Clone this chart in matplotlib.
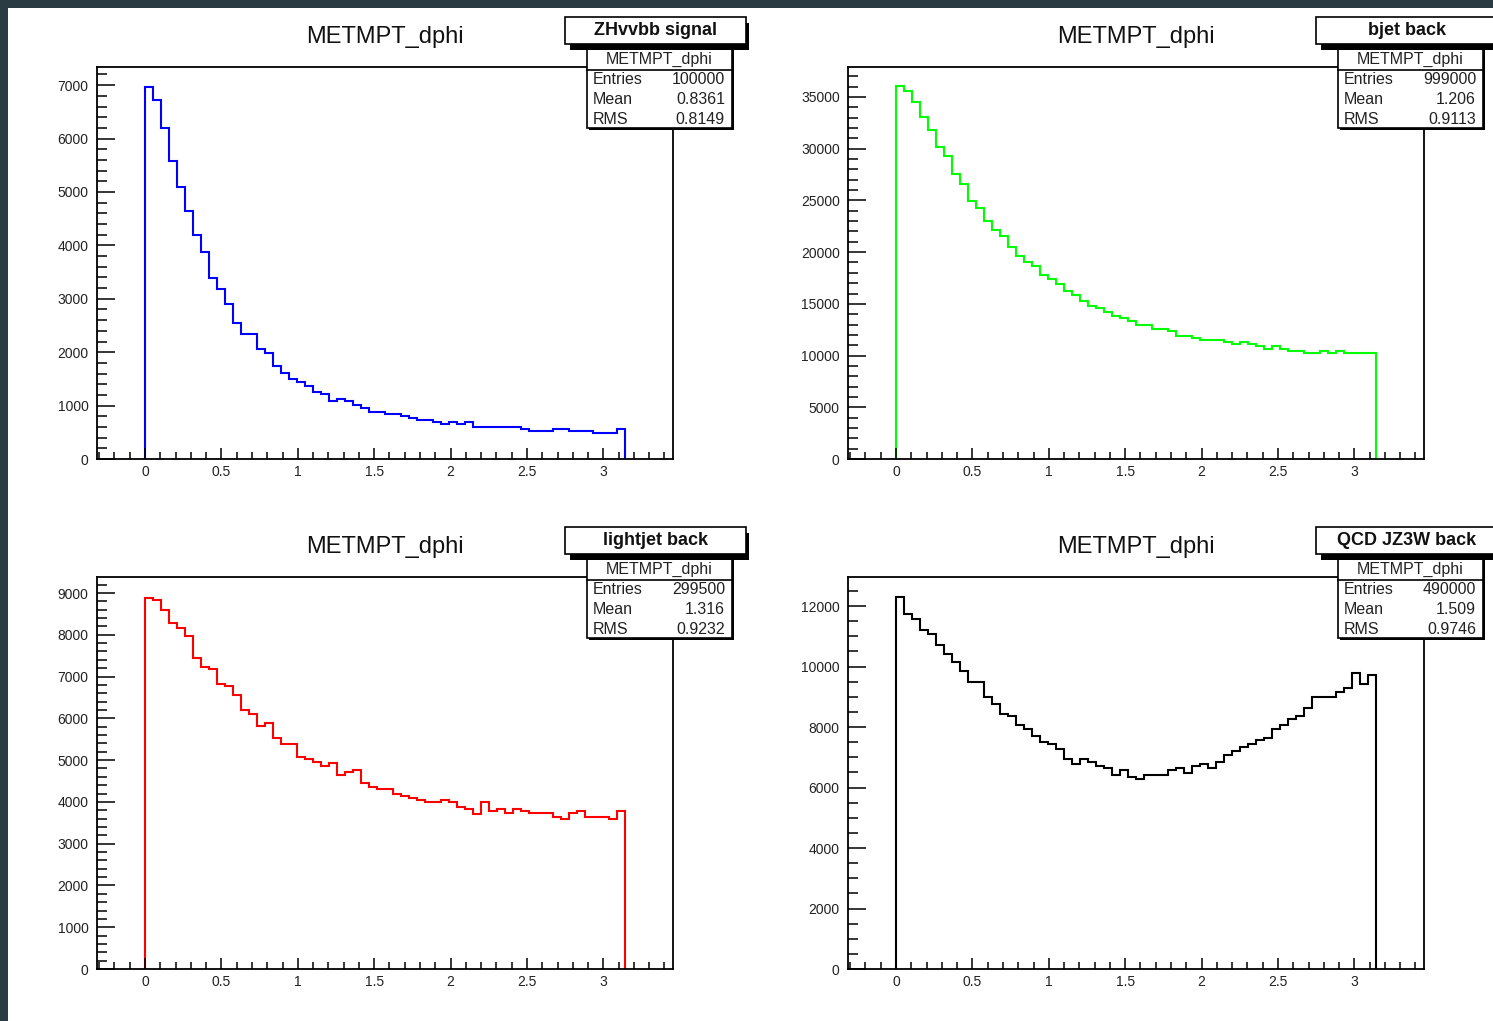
import numpy as np
import matplotlib.pyplot as plt
from matplotlib.patches import Rectangle
from matplotlib.ticker import MultipleLocator, FormatStrFormatter

plt.rcParams['font.family'] = ['Liberation Sans', 'DejaVu Sans']

W, H = 1493, 1021

# bin contents, 60 bins from 0 to pi
zhvvbb_counts = [6960, 6720, 6190, 5580, 5100, 4650, 4200, 3880, 3390, 3190,
                 2900, 2540, 2340, 2340, 2060, 1980, 1740, 1610, 1500, 1450,
                 1370, 1250, 1210, 1080, 1120, 1085, 1010, 960, 885, 885,
                 850, 850, 810, 770, 730, 730, 690, 650, 690, 650,
                 690, 605, 605, 605, 605, 605, 605, 560, 530, 530,
                 530, 560, 560, 530, 530, 530, 490, 490, 490, 560]
bjet_counts = [36040, 35620, 34550, 33060, 31800, 30150, 29310, 27600, 26570, 24920,
               24300, 23010, 22170, 21560, 20490, 19650, 19040, 18620, 17780, 17360,
               16940, 16290, 15900, 15260, 14840, 14640, 14220, 13800, 13610, 13380,
               12960, 12960, 12570, 12570, 12350, 11930, 11930, 11730, 11510, 11510,
               11510, 11310, 11090, 11310, 11090, 10890, 10670, 10890, 10670, 10470,
               10470, 10280, 10280, 10470, 10280, 10470, 10280, 10280, 10280, 10280]
lightjet_counts = [8885, 8838, 8583, 8280, 8169, 7962, 7444, 7229, 7189, 6815,
                   6768, 6569, 6194, 6099, 5828, 5892, 5533, 5382, 5382, 5064,
                   5016, 4960, 4857, 4920, 4650, 4713, 4761, 4451, 4347, 4299,
                   4299, 4196, 4140, 4092, 4045, 3989, 3989, 4045, 3989, 3885,
                   3838, 3702, 3989, 3782, 3838, 3726, 3838, 3782, 3734, 3734,
                   3734, 3631, 3583, 3726, 3782, 3631, 3631, 3631, 3583, 3782]
qcd_counts = [12288, 11735, 11581, 11206, 11073, 10709, 10422, 10146, 9859, 9494,
              9494, 8998, 8777, 8424, 8357, 8059, 7927, 7706, 7496, 7430,
              7286, 6933, 6778, 6933, 6856, 6712, 6634, 6425, 6568, 6348,
              6271, 6425, 6425, 6425, 6568, 6634, 6491, 6712, 6778, 6634,
              6856, 7065, 7209, 7353, 7430, 7562, 7640, 7927, 8070, 8280,
              8357, 8644, 8998, 8998, 8998, 9141, 9285, 9781, 9417, 9704]

hist_title = "METMPT_dphi"
labels = ["ZHvvbb signal", "bjet back", "lightjet back", "QCD JZ3W back"]
entries = ["100000", "999000", "299500", "490000"]
means = ["0.8361", "1.206", "1.316", "1.509"]
rmss = ["0.8149", "0.9113", "0.9232", "0.9746"]
colors = ["#0000ff", "#00ff00", "#ff0000", "#000000"]
ymaxes = [7340, 37900, 9383, 12959]
ymajor = [1000, 5000, 1000, 2000]
yminor = [200, 1000, 200, 500]

all_counts = [zhvvbb_counts, bjet_counts, lightjet_counts, qcd_counts]
edges = np.linspace(0, np.pi, len(zhvvbb_counts) + 1)


def fx(x):
    return x / W


def fy(y):
    return 1 - y / H


def box(x0, y0, x1, y1, **kw):
    r = Rectangle((fx(x0), fy(y1)), fx(x1) - fx(x0), fy(y0) - fy(y1),
                  transform=fig.transFigure, **kw)
    fig.add_artist(r)
    return r


fig = plt.figure(figsize=(W / 100, H / 100), dpi=100, facecolor='#2b3b44')
box(8, 8, W + 20, H + 20, facecolor='white', edgecolor='none', zorder=-10)

for i in range(4):
    r, c = divmod(i, 2)
    dx, dy = 751 * c, 510 * r
    x0, x1, y0, y1 = 97 + dx, 673 + dx, 67 + dy, 459 + dy
    ax = fig.add_axes([fx(x0), fy(y1), fx(x1) - fx(x0), fy(y0) - fy(y1)])
    ax.stairs(all_counts[i], edges, baseline=0, color=colors[i], lw=1.5)
    ax.set_xlim(-np.pi / 10, 1.1 * np.pi)
    ax.set_ylim(0, ymaxes[i])
    for s in ax.spines.values():
        s.set_linewidth(1.3)
    ax.xaxis.set_major_locator(MultipleLocator(0.5))
    ax.xaxis.set_minor_locator(MultipleLocator(0.1))
    ax.xaxis.set_major_formatter(FormatStrFormatter('%g'))
    ax.yaxis.set_major_locator(MultipleLocator(ymajor[i]))
    ax.yaxis.set_minor_locator(MultipleLocator(yminor[i]))
    ax.yaxis.set_major_formatter(FormatStrFormatter('%d'))
    ax.tick_params(axis='x', which='major', direction='in', length=8, width=1.1,
                   pad=4, labelsize=10, labelcolor='#222222')
    ax.tick_params(axis='x', which='minor', direction='in', length=4.7, width=1.1)
    ax.tick_params(axis='y', which='major', direction='in', length=13, width=1.1,
                   pad=6, labelsize=10, labelcolor='#222222')
    ax.tick_params(axis='y', which='minor', direction='in', length=7, width=1.1)

    # histogram title
    fig.text(fx(385 + dx), fy(37 + dy), hist_title, ha='center', va='center',
             fontsize=17, color='#111111')

    # stats box
    sx0, sx1, sy0, sy1 = 587 + dx, 732 + dx, 48 + dy, 128 + dy
    box(sx0 + 2, sy0 + 2, sx1 + 2, sy1 + 2, facecolor='black', edgecolor='none', zorder=5)
    box(sx0, sy0, sx1, sy1, facecolor='white', edgecolor='black', lw=1.2, zorder=6)
    fig.add_artist(plt.Line2D([fx(sx0), fx(sx1)], [fy(70 + dy)] * 2, color='black',
                              lw=1.2, transform=fig.transFigure, zorder=7))
    fig.text(fx((sx0 + sx1) / 2), fy(59 + dy), hist_title, ha='center', va='center',
             fontsize=11.5, color='#222222', zorder=8)
    rows = [("Entries", entries[i]), ("Mean", means[i]), ("RMS", rmss[i])]
    for k, (name, val) in enumerate(rows):
        yy = fy(80 + 19.5 * k + dy)
        fig.text(fx(593 + dx), yy, name, ha='left', va='center', fontsize=11.5,
                 color='#222222', zorder=8)
        fig.text(fx(725 + dx), yy, val, ha='right', va='center', fontsize=11.5,
                 color='#222222', zorder=8)

    # label box with shadow
    lx0, lx1, ly0, ly1 = 565 + dx, 746 + dx, 17 + dy, 44 + dy
    box(lx0 + 5, ly0 + 6, lx1 + 3, ly1 + 6, facecolor='black', edgecolor='none', zorder=9)
    box(lx0, ly0, lx1, ly1, facecolor='white', edgecolor='black', lw=1.2, zorder=10)
    fig.text(fx((lx0 + lx1) / 2), fy((ly0 + ly1) / 2), labels[i], ha='center',
             va='center', fontsize=13, fontweight='bold', color='#111111', zorder=11)

fig.savefig('out.png', dpi=100, facecolor=fig.get_facecolor())
